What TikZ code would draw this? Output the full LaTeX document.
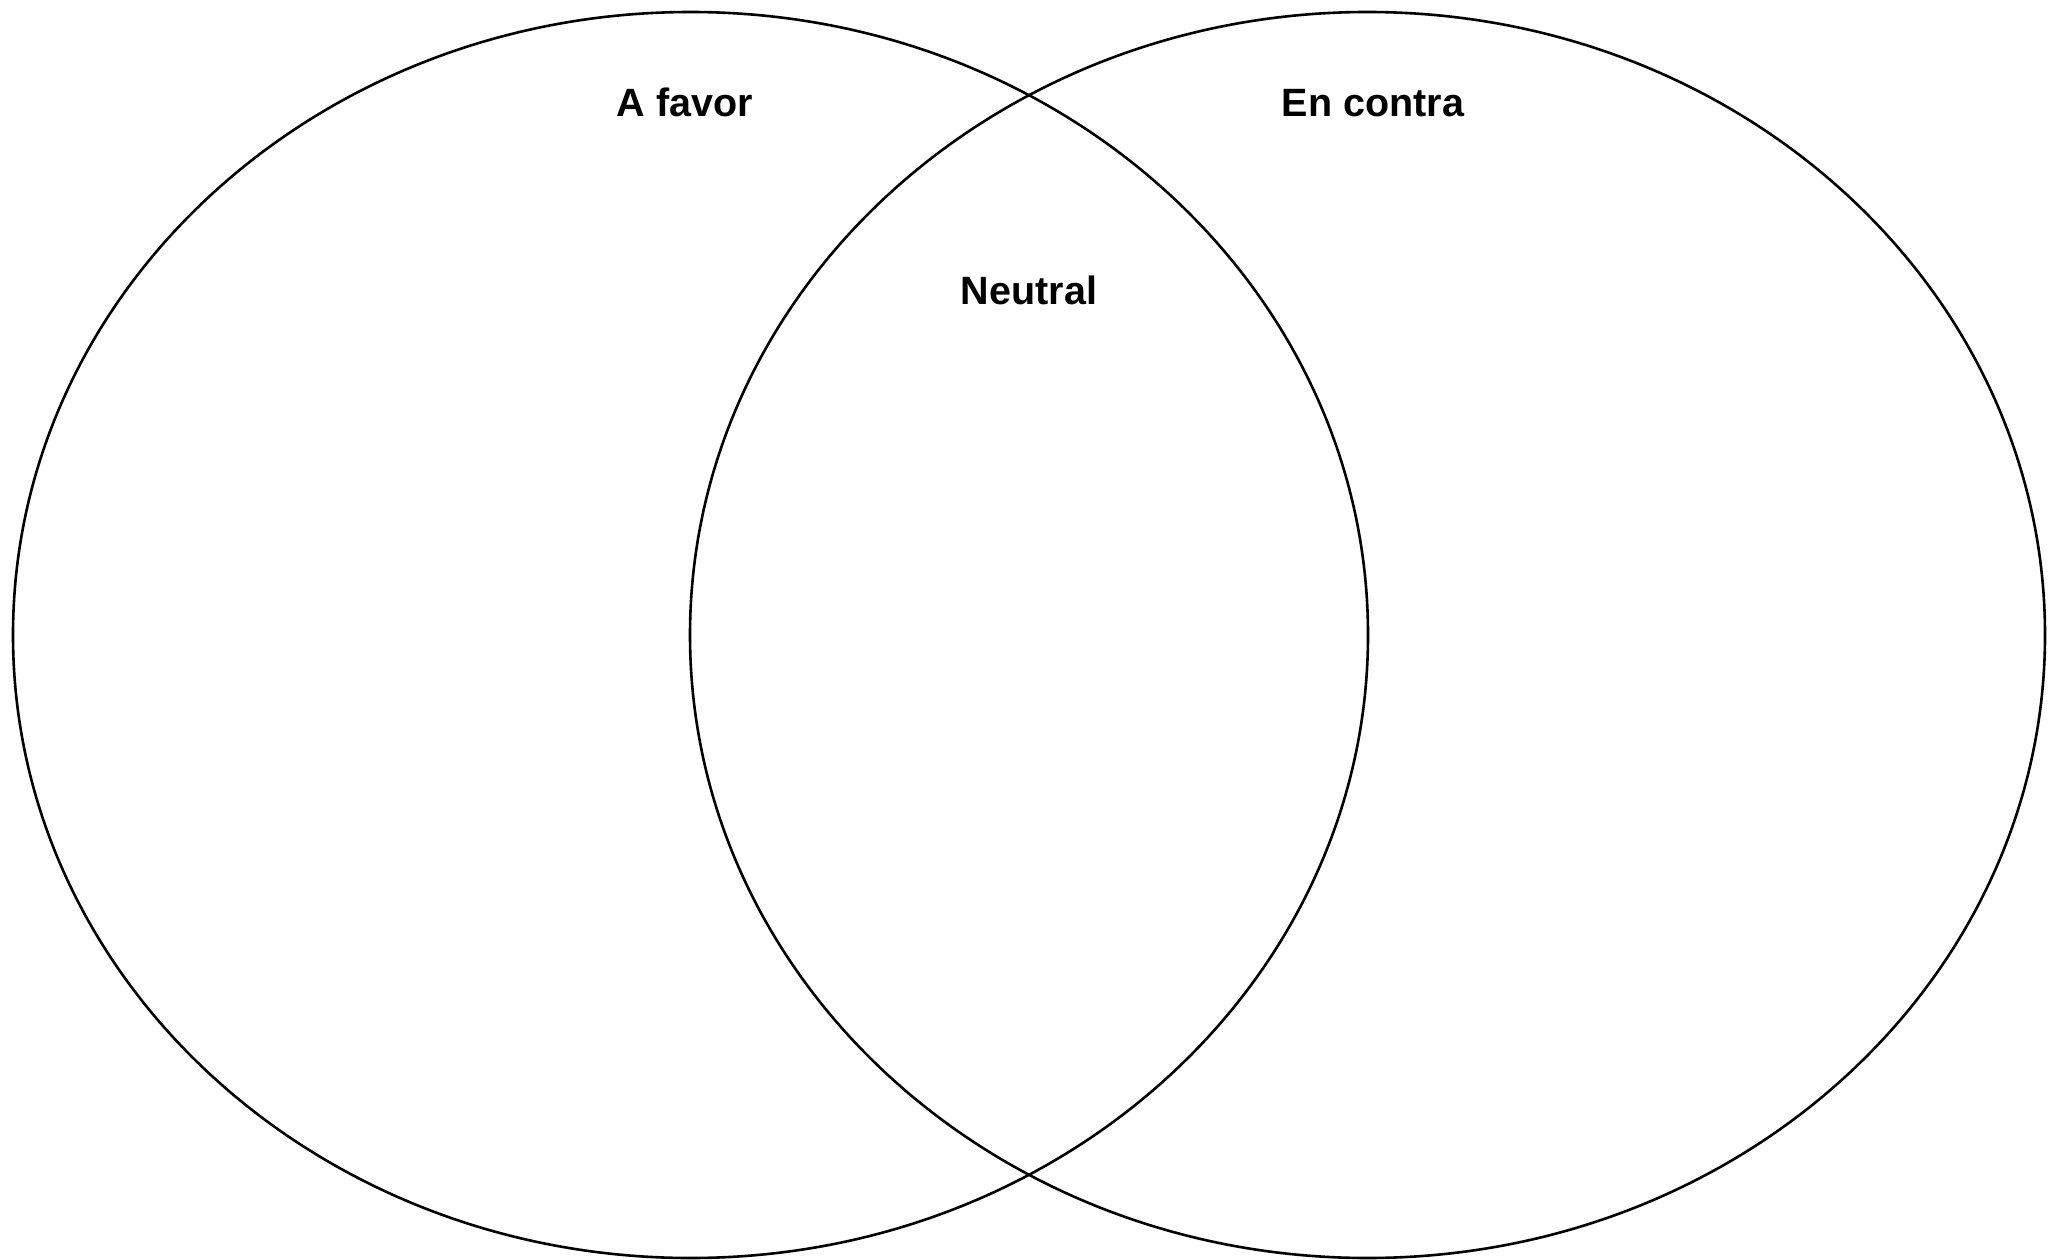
\documentclass[tikz,border=0pt]{standalone}
\usepackage{fontspec}
\setmainfont{Liberation Sans}
\usetikzlibrary{shapes.geometric}
\begin{document}
\begin{tikzpicture}[x=1pt,y=-1pt,
  venn/.style={draw=black,line width=2.6pt,ellipse,inner sep=0pt,outer sep=0pt,minimum width=1355pt,minimum height=1246pt},
  lbl/.style={font=\fontsize{39.5}{44}\selectfont\bfseries,anchor=base,inner sep=0pt}]
\useasboundingbox (0,0) rectangle (2060,1260);
\node[venn] (left) at (690.5,635) {};
\node[venn] (right) at (1367.5,635) {};
\node[lbl] (afavor) at (685,116.5) {A favor};
\node[lbl] (encontra) at (1373,116.5) {En contra};
\node[lbl] (neutral) at (1029,304.5) {Neutral};
\end{tikzpicture}
\end{document}
